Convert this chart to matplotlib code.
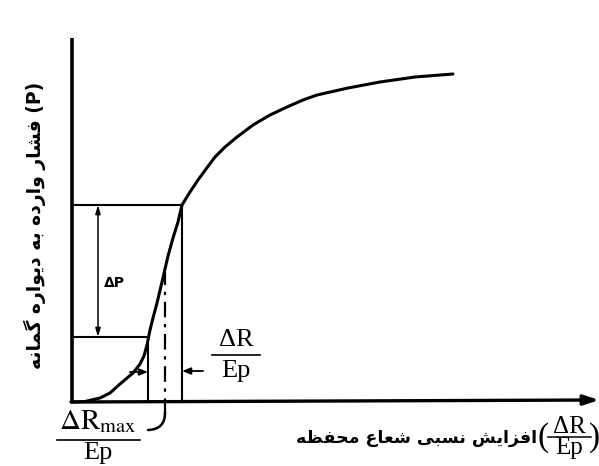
import matplotlib
matplotlib.use('Agg')
import matplotlib.pyplot as plt
from matplotlib.patches import FancyArrowPatch

plt.rcParams['mathtext.fontset'] = 'stix'

# curve: relative radius increase (dR/Ep) vs wall pressure P
curve_x = [0.0, 0.13, 0.28, 0.38, 0.48, 0.61, 0.68, 0.72, 0.75, 0.78, 0.81,
           0.85, 0.90, 0.96, 1.01, 1.06, 1.10, 1.18, 1.26, 1.34, 1.43, 1.53,
           1.65, 1.81, 1.98, 2.15, 2.31, 2.45, 2.76, 3.08, 3.43, 3.81]
curve_p = [0.0, 0.005, 0.04, 0.09, 0.18, 0.29, 0.38, 0.46, 0.57, 0.72, 0.84,
           0.99, 1.20, 1.46, 1.64, 1.80, 1.97, 2.10, 2.22, 2.33, 2.45, 2.55,
           2.65, 2.77, 2.87, 2.95, 3.02, 3.07, 3.14, 3.20, 3.25, 3.28]

p_low, p_high = 0.65, 1.97        # the two pressure levels
x_low, x_high = 0.76, 1.10        # matching radius increases
x_max = 0.93                      # dR_max / Ep (dash-dot line)
axis_top, axis_right = 3.64, 5.27

# Persian labels in visual (left-to-right) presentation forms
ylab = ('\ufeea\ufee7\ufe8e\ufee4\ufb94 '      # gamaneh
        '\ufee9\ufead\ufe8d\ufeee\ufbfe\ufea9 '  # divareh
        '\ufeea\ufe91 '                          # beh
        '\ufee9\ufea9\ufead\ufe8d\ufeed '        # vardeh
        '\ufead\ufe8e\ufeb8\ufed3 (P)')           # feshar
xlab = ('\ufeea\ufec8\ufed4\ufea4\ufee3 '      # mahfazeh
        '\ufec9\ufe8e\ufecc\ufeb7 '              # sho'a
        '\ufbfd\ufe92\ufeb4\ufee7 '              # nesbi
        '\ufeb6\ufbfe\ufe8d\ufeb0\ufed3\ufe8d')  # afzayesh

fig = plt.figure(figsize=(5.99, 4.66), dpi=100)
fig.patch.set_facecolor('white')
ax = fig.add_axes([0, 0, 1, 1])
ax.set_xlim(-0.72, 5.27)
ax.set_ylim(-0.64, 4.02)
ax.axis('off')

k = 'black'
# axes
ax.plot([0, 0], [0, axis_top], color=k, lw=2.6, solid_capstyle='butt')
ax.annotate('', xy=(axis_right, 0.02), xytext=(-0.01, 0),
            arrowprops=dict(arrowstyle='-|>,head_length=0.9,head_width=0.3',
                            color=k, lw=2.4, shrinkA=0, shrinkB=0))

# curve
ax.plot(curve_x, curve_p, color=k, lw=2.2, solid_capstyle='round',
        solid_joinstyle='round')

# construction lines
ax.plot([0, x_high], [p_high, p_high], color=k, lw=1.5)
ax.plot([0, x_low], [p_low, p_low], color=k, lw=1.5)
ax.plot([x_low, x_low], [0, p_low], color=k, lw=1.5)
ax.plot([x_high, x_high], [0, p_high], color=k, lw=1.5)
ax.plot([x_max, x_max], [-0.12, 1.30], color=k, lw=1.6,
        linestyle=(0, (7, 3, 1.5, 3)))
leader = FancyArrowPatch((x_max, -0.10), (0.76, -0.28), arrowstyle='-',
                         connectionstyle='arc3,rad=-0.5', color=k, lw=1.8,
                         shrinkA=0, shrinkB=0)
ax.add_patch(leader)

# delta P dimension
ax.annotate('', xy=(0.26, p_high), xytext=(0.26, p_low),
            arrowprops=dict(arrowstyle='<|-|>,head_length=0.5,head_width=0.15',
                            color=k, lw=1.1, shrinkA=0, shrinkB=0))
ax.text(0.42, 1.19, '\u0394P', fontsize=10, fontweight='bold',
        ha='center', va='center')

# dR/Ep dimension arrows
ax.annotate('', xy=(x_low, 0.30), xytext=(0.58, 0.30),
            arrowprops=dict(arrowstyle='-|>,head_length=0.5,head_width=0.2',
                            color=k, lw=1.3, shrinkA=0, shrinkB=0))
ax.annotate('', xy=(x_high, 0.31), xytext=(1.31, 0.31),
            arrowprops=dict(arrowstyle='-|>,head_length=0.5,head_width=0.2',
                            color=k, lw=1.3, shrinkA=0, shrinkB=0))

# fraction labels
serif = 'Liberation Serif'
ax.text(1.64, 0.62, '\u0394R', fontsize=19, family=serif, ha='center', va='center')
ax.plot([1.40, 1.88], [0.47, 0.47], color=k, lw=1.2)
ax.text(1.64, 0.31, 'Ep', fontsize=19, family=serif, ha='center', va='center')

ax.text(0.26, -0.19, r'$\Delta\mathrm{R}_{\mathrm{max}}$', fontsize=21,
        ha='center', va='center')
ax.plot([-0.15, 0.68], [-0.38, -0.38], color=k, lw=1.2)
ax.text(0.26, -0.51, 'Ep', fontsize=19, family=serif, ha='center', va='center')

# x axis label
ax.text(4.65, -0.36, xlab, fontsize=12.5, fontweight='bold',
        family=['DejaVu Sans'], ha='right', va='center')
ax.text(4.71, -0.36, '(', fontsize=24, family=serif, ha='center', va='center')
ax.text(4.97, -0.25, '\u0394R', fontsize=18, family=serif, ha='center', va='center')
ax.plot([4.76, 5.19], [-0.35, -0.35], color=k, lw=1.1)
ax.text(4.97, -0.46, 'Ep', fontsize=18, family=serif, ha='center', va='center')
ax.text(5.22, -0.36, ')', fontsize=24, family=serif, ha='center', va='center')

# y axis label
ax.text(-0.37, 1.77, ylab, fontsize=13.5, fontweight='bold', rotation=90,
        family=['DejaVu Sans'], ha='center', va='center')

fig.savefig('out.png', dpi=100)
